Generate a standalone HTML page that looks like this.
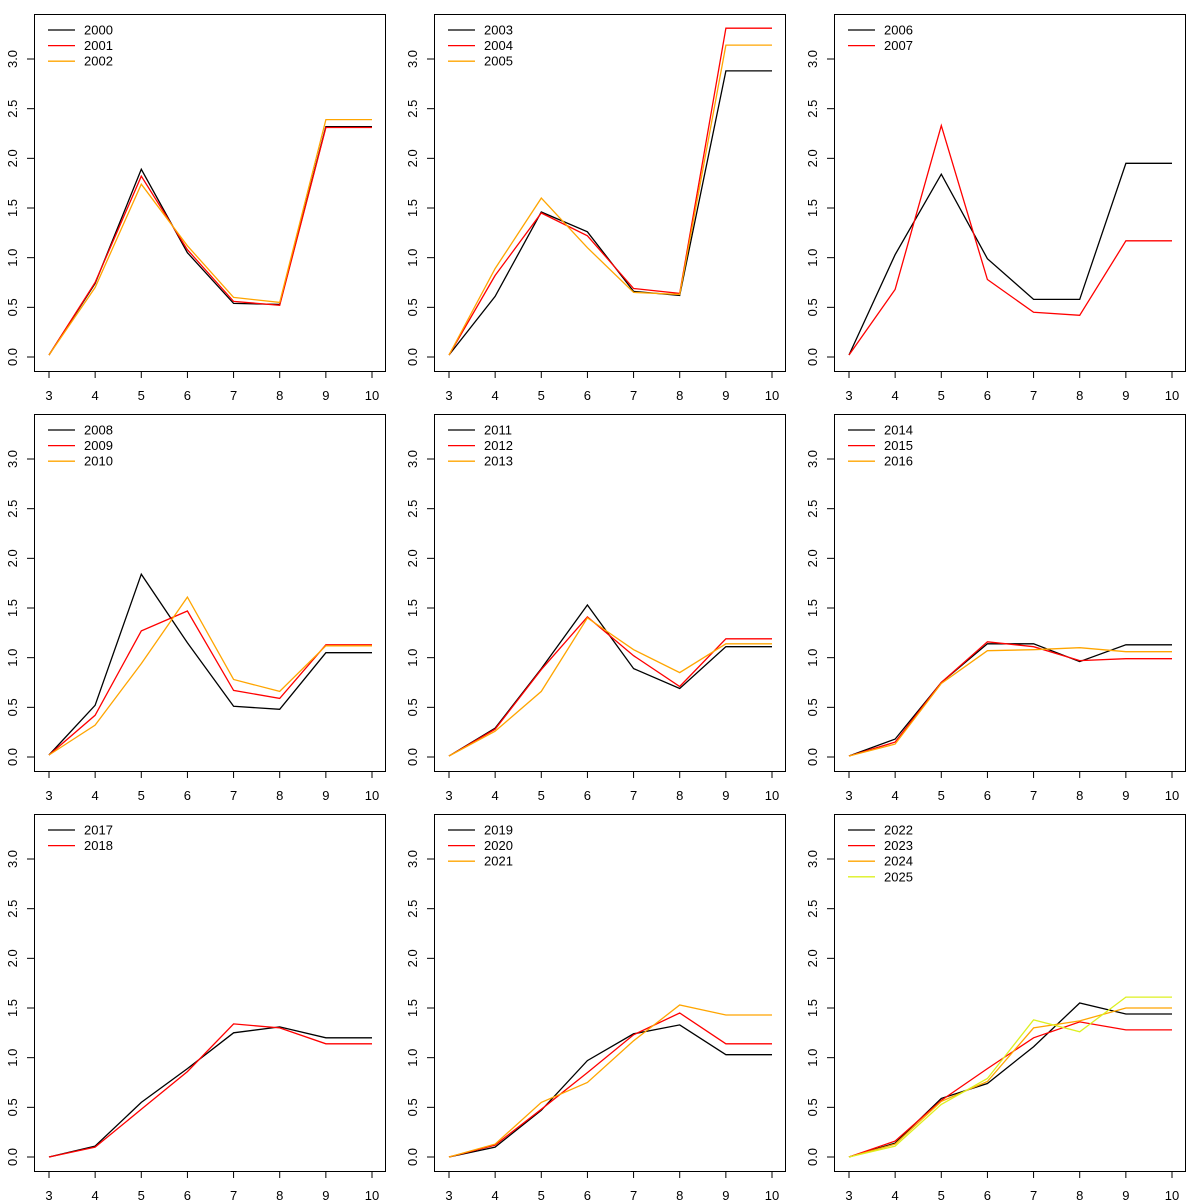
<!DOCTYPE html>
<html><head><meta charset="utf-8"><style>
html,body{margin:0;padding:0;background:#fff;}
svg{display:block;font-family:"Liberation Sans",sans-serif;}
</style></head><body>
<svg id="chart" width="1200" height="1200" viewBox="0 0 1200 1200"></svg>
<script>
const xCategories = [3,4,5,6,7,8,9,10];
const yTicks = [0,0.5,1,1.5,2,2.5,3];
const yTickLabels = ["0.0","0.5","1.0","1.5","2.0","2.5","3.0"];
const panelYears = [["2000","2001","2002"],["2003","2004","2005"],["2006","2007"],["2008","2009","2010"],["2011","2012","2013"],["2014","2015","2016"],["2017","2018"],["2019","2020","2021"],["2022","2023","2024","2025"]];
const s2000=[0.02,0.74,1.89,1.05,0.54,0.53,2.32,2.32];
const s2001=[0.02,0.75,1.82,1.08,0.56,0.52,2.31,2.31];
const s2002=[0.02,0.70,1.74,1.12,0.60,0.55,2.39,2.39];
const s2003=[0.02,0.61,1.46,1.26,0.66,0.62,2.88,2.88];
const s2004=[0.02,0.82,1.45,1.22,0.69,0.64,3.31,3.31];
const s2005=[0.02,0.89,1.60,1.10,0.65,0.63,3.14,3.14];
const s2006=[0.02,1.03,1.84,0.99,0.58,0.58,1.95,1.95];
const s2007=[0.02,0.68,2.33,0.78,0.45,0.42,1.17,1.17];
const s2008=[0.02,0.52,1.84,1.15,0.51,0.48,1.05,1.05];
const s2009=[0.02,0.42,1.27,1.47,0.67,0.59,1.13,1.13];
const s2010=[0.02,0.32,0.94,1.61,0.78,0.66,1.12,1.12];
const s2011=[0.01,0.29,0.89,1.53,0.89,0.69,1.11,1.11];
const s2012=[0.01,0.28,0.88,1.41,1.02,0.71,1.19,1.19];
const s2013=[0.01,0.26,0.66,1.40,1.08,0.85,1.14,1.14];
const s2014=[0.01,0.18,0.75,1.14,1.14,0.96,1.13,1.13];
const s2015=[0.01,0.15,0.75,1.16,1.11,0.97,0.99,0.99];
const s2016=[0.01,0.13,0.74,1.07,1.08,1.10,1.06,1.06];
const s2017=[0.00,0.11,0.55,0.89,1.25,1.31,1.20,1.20];
const s2018=[0.00,0.10,0.48,0.86,1.34,1.30,1.14,1.14];
const s2019=[0.00,0.10,0.47,0.97,1.24,1.33,1.03,1.03];
const s2020=[0.00,0.12,0.48,0.85,1.23,1.45,1.14,1.14];
const s2021=[0.00,0.13,0.55,0.75,1.17,1.53,1.43,1.43];
const s2022=[0.00,0.14,0.59,0.74,1.11,1.55,1.44,1.44];
const s2023=[0.00,0.16,0.57,0.89,1.20,1.36,1.28,1.28];
const s2024=[0.00,0.13,0.56,0.76,1.30,1.37,1.50,1.50];
const s2025=[0.00,0.11,0.53,0.79,1.38,1.26,1.61,1.61];
const seriesByYear={"2000":s2000,"2001":s2001,"2002":s2002,"2003":s2003,"2004":s2004,"2005":s2005,"2006":s2006,"2007":s2007,"2008":s2008,"2009":s2009,"2010":s2010,"2011":s2011,"2012":s2012,"2013":s2013,"2014":s2014,"2015":s2015,"2016":s2016,"2017":s2017,"2018":s2018,"2019":s2019,"2020":s2020,"2021":s2021,"2022":s2022,"2023":s2023,"2024":s2024,"2025":s2025};
const colors=["#000000","#FF0000","#FFA500","#DDF020"];

const NS="http://www.w3.org/2000/svg";
const svg=document.getElementById('chart');
function mk(tag,attrs,parent){const e=document.createElementNS(NS,tag);for(const k in attrs)e.setAttribute(k,attrs[k]);(parent||svg).appendChild(e);return e;}

panelYears.forEach((years,p)=>{
  const col=p%3,row=Math.floor(p/3);
  const ox=col*400,oy=row*400;
  const L=ox+34,R=ox+385,T=oy+14,B=oy+371;
  const xS=v=>ox+49+(v-3)*(323/7);
  const yS=v=>oy+357-v*99.33;
  const g=mk('g',{});
  
  
  const box=mk('rect',{x:L+0.5,y:T+0.5,width:R-L,height:B-T,fill:'none',stroke:'#000','stroke-width':1},g);
  
  
  yTicks.forEach((t,i)=>{
    const y=yS(t);
    const tk=mk('line',{x1:L-7,x2:L,y1:y,y2:y,stroke:'#000'},g);
    
    
    const tx=mk('text',{x:0,y:0,'font-size':13,'text-anchor':'middle',transform:`translate(${L-17},${y}) rotate(-90)`},g);
    tx.textContent=yTickLabels[i];
    
    
  });
  xCategories.forEach(c=>{
    const x=xS(c);
    const tk=mk('line',{x1:x,x2:x,y1:B,y2:B+7,stroke:'#000'},g);
    
    
    const tx=mk('text',{x:x,y:B+29,'font-size':13,'text-anchor':'middle'},g);
    tx.textContent=String(c);
    
    
  });
  years.forEach((yr,i)=>{
    const vals=seriesByYear[yr];
    const pts=vals.map((v,j)=>xS(xCategories[j]).toFixed(1)+','+yS(v).toFixed(1)).join(' ');
    const pl=mk('polyline',{points:pts,fill:'none',stroke:colors[i],'stroke-width':1.3},g);
    
    
    const ly=oy+30+i*15.6;
    const ll=mk('line',{x1:ox+48,x2:ox+75,y1:ly,y2:ly,stroke:colors[i],'stroke-width':1.3},g);
    
    
    const lt=mk('text',{x:ox+84,y:ly+4.5,'font-size':13},g);
    lt.textContent=yr;
    
    
  });
});
</script>
</body></html>
